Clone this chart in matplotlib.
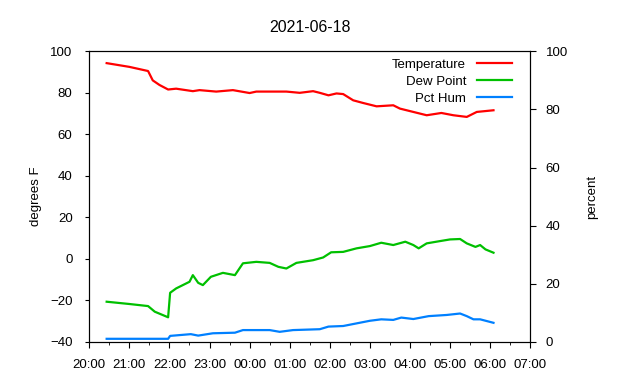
import matplotlib
matplotlib.use("Agg")
import matplotlib.pyplot as plt
import matplotlib.dates as mdates
from matplotlib.ticker import MultipleLocator
from datetime import datetime, timedelta

plt.rcParams['font.family'] = ['Liberation Sans', 'DejaVu Sans']
plt.rcParams['font.size'] = 9.5

# readings, 2021-06-18 evening into the next morning
temp_times = ["20:26", "21:00", "21:28", "21:35", "21:45", "21:58", "22:10", "22:35", "22:45",
              "23:10", "23:35", "00:00", "00:10", "00:55", "01:15", "01:35", "01:45", "01:58",
              "02:10", "02:20", "02:35", "02:50", "03:10", "03:35", "03:45", "04:05", "04:25",
              "04:47", "05:05", "05:25", "05:40", "06:05"]
temp_vals = [94.3, 92.5, 90.5, 86.0, 83.8, 81.6, 82.0, 80.8, 81.3,
             80.6, 81.3, 79.9, 80.6, 80.6, 80.0, 80.8, 80.0, 78.8,
             79.7, 79.4, 76.4, 75.1, 73.5, 74.0, 72.4, 70.8, 69.2,
             70.3, 69.2, 68.4, 70.8, 71.6]

dew_times = ["20:26", "21:00", "21:28", "21:38", "21:58", "22:01", "22:10", "22:20", "22:30",
             "22:35", "22:43", "22:50", "23:02", "23:20", "23:38", "23:50", "00:10", "00:30",
             "00:43", "00:55", "01:10", "01:35", "01:50", "02:02", "02:20", "02:40", "03:00",
             "03:17", "03:35", "03:53", "04:05", "04:13", "04:25", "04:45", "05:00", "05:15",
             "05:25", "05:38", "05:45", "05:53", "06:05"]
dew_vals = [-20.6, -21.7, -22.7, -25.4, -28.1, -16.3, -14.2, -12.6, -11.0,
            -7.8, -11.5, -12.6, -8.6, -6.7, -7.8, -2.1, -1.4, -1.9,
            -3.8, -4.6, -1.9, -0.6, 0.7, 3.2, 3.4, 5.1, 6.2,
            7.8, 6.7, 8.3, 6.7, 5.1, 7.5, 8.6, 9.4, 9.6,
            7.5, 5.8, 6.7, 4.6, 3.0]

hum_times = ["20:26", "21:58", "22:01", "22:32", "22:43", "23:05", "23:38", "23:50", "00:30",
             "00:45", "01:05", "01:45", "01:58", "02:20", "02:40", "03:00", "03:17", "03:35",
             "03:47", "04:05", "04:28", "04:55", "05:15", "05:25", "05:35", "05:45", "06:05"]
hum_vals = [1.1, 1.1, 2.1, 2.7, 2.2, 3.0, 3.2, 4.1, 4.1,
            3.5, 4.1, 4.4, 5.3, 5.5, 6.4, 7.3, 7.8, 7.6,
            8.4, 7.9, 8.9, 9.3, 9.8, 8.9, 7.8, 7.8, 6.6]

day = datetime(2021, 6, 18)


def to_dt(hhmm):
    h, m = map(int, hhmm.split(":"))
    d = day + timedelta(hours=h, minutes=m)
    if h < 12:
        d += timedelta(days=1)
    return d


fig = plt.figure(figsize=(6.4, 3.8), dpi=100)
ax = fig.add_axes([0.1395, 0.1, 0.689, 0.765])
ax2 = ax.twinx()

l1, = ax.plot([to_dt(t) for t in temp_times], temp_vals, color='#ff0000', lw=1.6)
l2, = ax.plot([to_dt(t) for t in dew_times], dew_vals, color='#00c000', lw=1.6)
l3, = ax2.plot([to_dt(t) for t in hum_times], hum_vals, color='#0080ff', lw=1.6)

ax.set_xlim(day + timedelta(hours=20), day + timedelta(hours=31))
ax.set_ylim(-40, 100)
ax2.set_ylim(0, 100)
ax.yaxis.set_major_locator(MultipleLocator(20))
ax2.yaxis.set_major_locator(MultipleLocator(20))
ax.xaxis.set_major_locator(mdates.HourLocator())
ax.xaxis.set_minor_locator(mdates.MinuteLocator(byminute=[30]))
ax.xaxis.set_major_formatter(mdates.DateFormatter('%H:%M'))

ax.tick_params(axis='y', direction='out', length=3, pad=9)
ax.tick_params(axis='x', which='major', direction='out', length=4, pad=8)
ax.tick_params(axis='x', which='minor', direction='out', length=2)
ax2.tick_params(axis='y', direction='out', length=4, pad=7)

ax.set_ylabel('degrees F', labelpad=6)
ax2.set_ylabel('percent', labelpad=13)
ax.set_title('2021-06-18', pad=14)

ax.legend([l1, l2, l3], ['Temperature', 'Dew Point', 'Pct Hum'],
          loc='upper right', frameon=False, markerfirst=False,
          handlelength=2.7, handletextpad=0.8, labelspacing=0.35,
          borderaxespad=0.3, bbox_to_anchor=(0.98, 1.006))

fig.savefig('out.png', dpi=100)
